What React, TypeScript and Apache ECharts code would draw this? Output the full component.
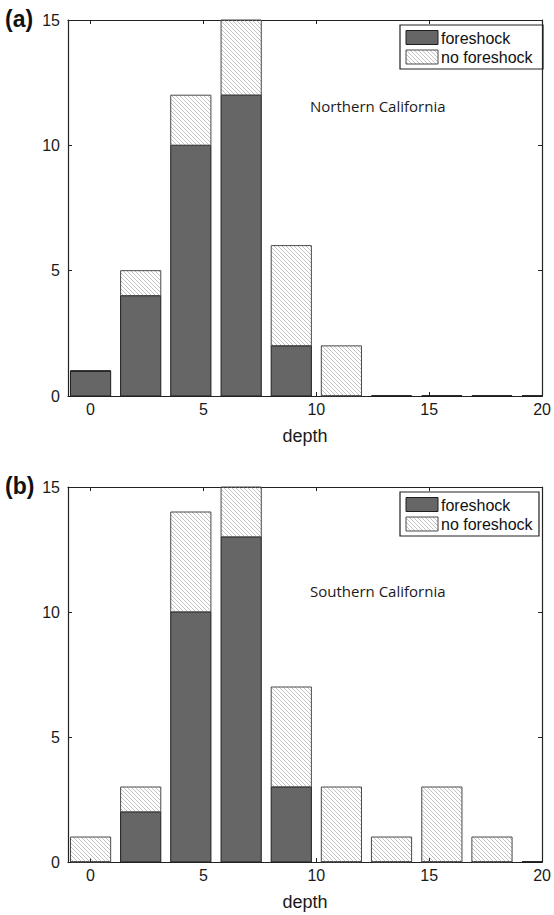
import React, { useEffect, useRef } from "react";
import * as echarts from "echarts";

// Histogram bin centres (km) shared by both regions
const depthBins = [0, 2.22, 4.44, 6.67, 8.89, 11.11, 13.33, 15.56, 17.78, 20];
// Counts per bin
const northForeshock = [1, 4, 10, 12, 2, 0, 0, 0, 0, 0];
const northNoForeshock = [0, 1, 2, 3, 4, 2, 0, 0, 0, 0];
const southForeshock = [0, 2, 10, 13, 3, 0, 0, 0, 0, 0];
const southNoForeshock = [1, 1, 4, 2, 4, 3, 1, 3, 1, 0];
// Axis ticks
const xTicks = [0, 5, 10, 15, 20];
const yTicks = [0, 5, 10, 15];
const seriesNames = ["foreshock", "no foreshock"];
const panelTags = ["(a)", "(b)"];
const regionNames = ["Northern California", "Southern California"];
const axisTitle = "depth";

const BAR_W = 1.78; // bar width in depth units (80% of bin width)
const GRID_TOPS = [20, 487];
const GRID_HEIGHTS = [376, 375];
const GRID_LEFT = 68;
const GRID_WIDTH = 477;
const DARK = "#666666";
const EDGE = "#1e1e1e";
const FONT = "Liberation Sans";

// Light diagonal hatching for the "no foreshock" bars
function hatchPattern() {
  const s = 4;
  const c = document.createElement("canvas");
  c.width = s;
  c.height = s;
  const ctx = c.getContext("2d")!;
  ctx.strokeStyle = "#a8a8a8";
  ctx.lineWidth = 0.7;
  ctx.beginPath();
  for (const o of [-s, 0, s]) {
    ctx.moveTo(o - 1, -1);
    ctx.lineTo(o + s + 1, s + 1);
  }
  ctx.stroke();
  return {
    image: c.toDataURL(),
    repeat: "repeat",
    imageWidth: s,
    imageHeight: s,
  };
}

function stackItems(lower: number[] | null, upper: number[]) {
  return depthBins.map((x, i) => {
    const base = lower ? lower[i] : 0;
    return [x, base, base + upper[i]];
  });
}

function makeRenderer(fill: any, stroke: string) {
  return (params: any, api: any) => {
    const x = api.value(0);
    const lo = api.value(1);
    const hi = api.value(2);
    const a = api.coord([x - BAR_W / 2, lo]);
    const b = api.coord([x + BAR_W / 2, hi]);
    const cs = params.coordSys;
    const x0 = Math.max(a[0], cs.x);
    const x1 = Math.min(b[0], cs.x + cs.width);
    const yTop = Math.max(b[1], cs.y);
    const yBot = Math.min(a[1], cs.y + cs.height);
    const flat = yBot - yTop <= 0;
    return {
      type: "rect",
      shape: { x: x0, y: yTop, width: Math.max(0, x1 - x0), height: Math.max(0, yBot - yTop) },
      style: { fill, stroke: flat ? EDGE : stroke, lineWidth: flat ? 1.6 : 1 },
    };
  };
}

export default function App() {
  const ref = useRef<HTMLDivElement>(null);

  useEffect(() => {
    if (!ref.current) return;
    const chart = echarts.init(ref.current, undefined, { renderer: "svg" });
    const hatch = hatchPattern();

    const panels = [
      { fore: northForeshock, none: northNoForeshock },
      { fore: southForeshock, none: southNoForeshock },
    ];

    const grids: any[] = [];
    const xAxes: any[] = [];
    const yAxes: any[] = [];
    const series: any[] = [];
    const graphics: any[] = [];

    const axisLine = { show: true, onZero: false, lineStyle: { color: "#222", width: 1.2 } };
    const tick = { show: true, inside: true, length: 4, lineStyle: { color: "#222" } };

    panels.forEach((p, i) => {
      const top = GRID_TOPS[i];
      grids.push({ left: GRID_LEFT, top, width: GRID_WIDTH, height: GRID_HEIGHTS[i] });

      // bottom x axis with labels
      xAxes.push({
        type: "value",
        gridIndex: i,
        position: "bottom",
        min: -1,
        max: 20,
        name: axisTitle,
        nameLocation: "middle",
        nameGap: 31,
        nameTextStyle: { fontFamily: FONT, fontSize: 18, color: "#1a1a1a" },
        axisLine,
        axisTick: { ...tick, customValues: xTicks },
        axisLabel: { customValues: xTicks, fontFamily: FONT, fontSize: 16, color: "#1a1a1a", margin: 5 },
        splitLine: { show: false },
      });
      // top box edge
      xAxes.push({
        type: "value",
        gridIndex: i,
        position: "top",
        min: -1,
        max: 20,
        axisLine,
        axisTick: { ...tick, customValues: xTicks },
        axisLabel: { show: false },
        splitLine: { show: false },
      });
      // left y axis with labels
      yAxes.push({
        type: "value",
        gridIndex: i,
        position: "left",
        min: 0,
        max: 15,
        interval: 5,
        axisLine,
        axisTick: { ...tick, customValues: yTicks },
        axisLabel: { customValues: yTicks, fontFamily: FONT, fontSize: 16, color: "#1a1a1a", margin: 8 },
        splitLine: { show: false },
      });
      // right box edge
      yAxes.push({
        type: "value",
        gridIndex: i,
        position: "right",
        min: 0,
        max: 15,
        interval: 5,
        axisLine,
        axisTick: { ...tick, customValues: yTicks },
        axisLabel: { show: false },
        splitLine: { show: false },
      });

      const xi = i * 2;
      const yi = i * 2;
      series.push({
        type: "custom",
        name: seriesNames[0],
        xAxisIndex: xi,
        yAxisIndex: yi,
        encode: { x: 0, y: 2 },
        data: stackItems(null, p.fore),
        renderItem: makeRenderer(DARK, EDGE),
        z: 3,
      });
      series.push({
        type: "custom",
        name: seriesNames[1],
        xAxisIndex: xi,
        yAxisIndex: yi,
        encode: { x: 0, y: 2 },
        data: stackItems(p.fore, p.none),
        renderItem: makeRenderer(hatch, "#4a4a4a"),
        z: 3,
      });

      // panel tag
      graphics.push({
        type: "text",
        left: 5,
        top: top - 13,
        style: { text: panelTags[i], fontFamily: FONT, fontSize: 23, fontWeight: "bold", fill: "#111" },
      });
      // region annotation
      graphics.push({
        type: "text",
        x: 310,
        y: top + (i === 0 ? 86 : 104),
        style: {
          text: regionNames[i],
          fontFamily: "Open Sans",
          fontSize: 15,
          fill: "#1a1a1a",
          textVerticalAlign: "middle",
        },
      });
      // legend box
      const legW = i === 0 ? 143 : 139;
      graphics.push({
        type: "group",
        z: 10,
        children: [
          {
            type: "rect",
            shape: { x: 400, y: top + 5, width: legW, height: 44 },
            style: { fill: "#fff", stroke: "#222", lineWidth: 1.2 },
          },
          {
            type: "rect",
            shape: { x: 406, y: top + 10.5, width: 32, height: 14 },
            style: { fill: DARK, stroke: EDGE, lineWidth: 1 },
          },
          {
            type: "rect",
            shape: { x: 406, y: top + 30, width: 32, height: 14 },
            style: { fill: hatch, stroke: "#4a4a4a", lineWidth: 1 },
          },
          {
            type: "text",
            x: 441,
            y: top + 18,
            style: { text: seriesNames[0], fontFamily: FONT, fontSize: 16, fill: "#111", textVerticalAlign: "middle" },
          },
          {
            type: "text",
            x: 441,
            y: top + 37,
            style: { text: seriesNames[1], fontFamily: FONT, fontSize: 16, fill: "#111", textVerticalAlign: "middle" },
          },
        ],
      });
    });

    chart.setOption({
      animation: false,
      backgroundColor: "#fff",
      grid: grids,
      xAxis: xAxes,
      yAxis: yAxes,
      series,
      graphic: graphics,
    });

    return () => chart.dispose();
  }, []);

  return (
    <div
      ref={ref}
      style={{ position: "fixed", left: 0, top: 0, width: 554, height: 915, background: "#fff" }}
    />
  );
}
